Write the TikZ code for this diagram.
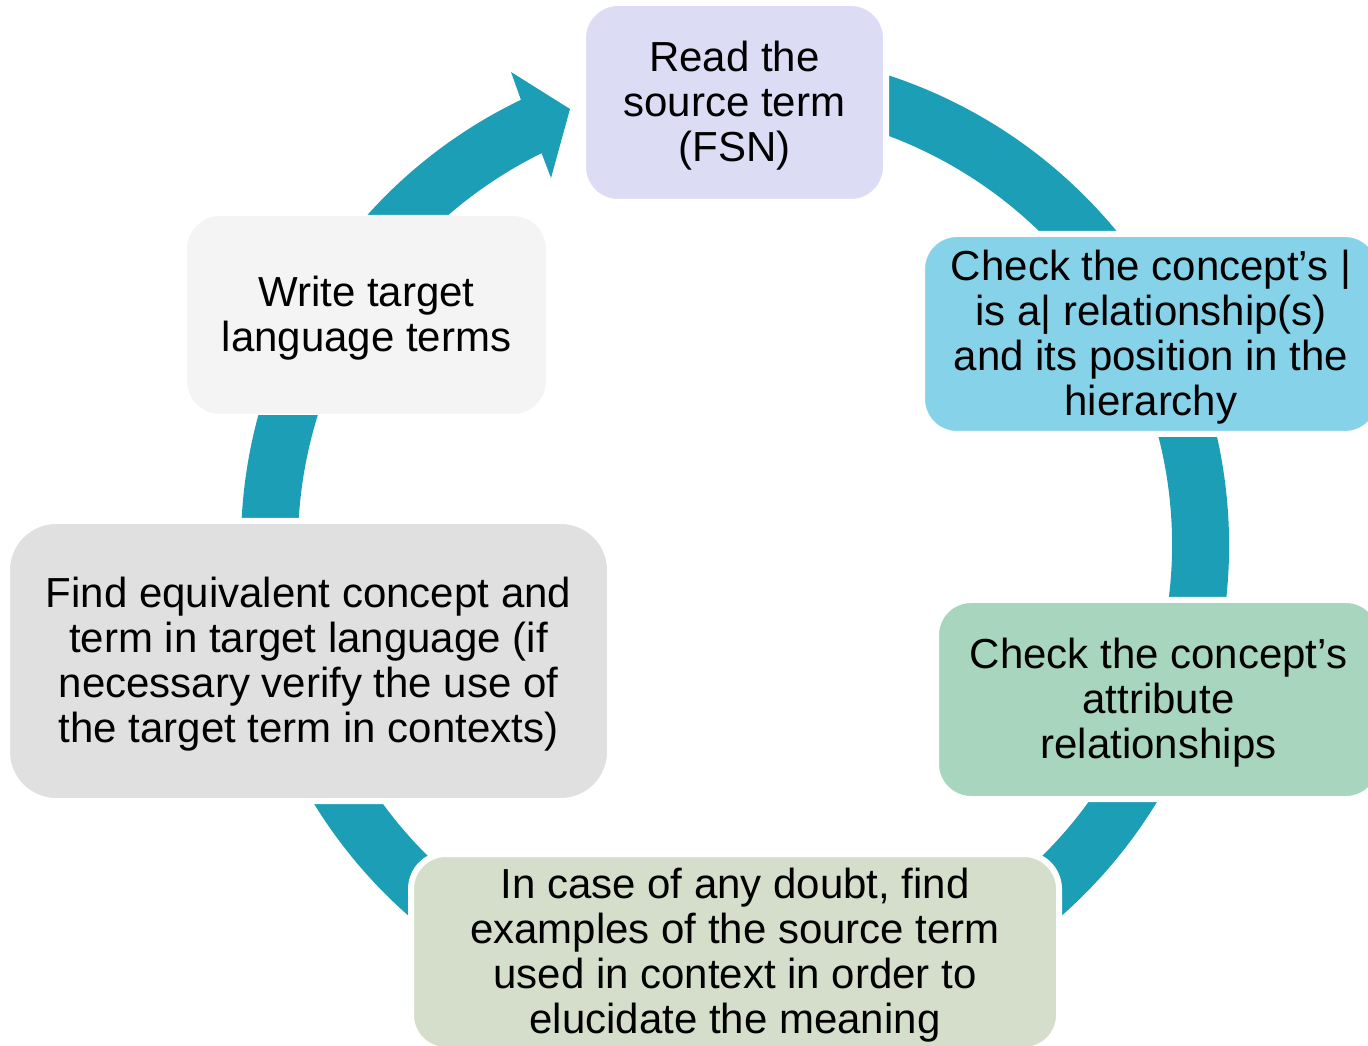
\documentclass[tikz,border=0pt]{standalone}
\usepackage{fontspec}
\setmainfont{Liberation Sans}
\usetikzlibrary{calc}
\definecolor{ringc}{RGB}{28,158,182}
\definecolor{creadbox}{RGB}{220,220,245}
\definecolor{cisabox}{RGB}{134,211,233}
\definecolor{cattrbox}{RGB}{167,213,190}
\definecolor{cdoubtbox}{RGB}{213,222,202}
\definecolor{cfindbox}{RGB}{224,224,224}
\definecolor{cwritebox}{RGB}{244,244,244}
\newcommand{\boxlines}[1]{\raisebox{0pt}[\dimexpr\height+10pt\relax][\depth]{\begin{tabular}{@{}c@{}}#1\end{tabular}}}
\tikzset{
  stepbox/.style={draw=white, line width=6pt, rounded corners=#1, inner sep=0pt,
    align=center, text=black, font=\fontsize{42}{45}\selectfont}
}
\begin{document}
\begin{tikzpicture}[x=1pt,y=1pt]
\useasboundingbox (0,0) rectangle (1368,1045);
\clip (0,0) rectangle (1368,1045);
\coordinate (O) at (735,500);
% ring with arrowhead
\fill[ringc] ($(O)+(115.68:494)$) -- (511,973) -- (570,936) -- (551,867)
  -- ($(O)+(116.27:437)$) arc[start angle=116.27, end angle=460, radius=437pt]
  -- ($(O)+(460:494)$) arc[start angle=460, end angle=115.68, radius=494pt] -- cycle;
% boxes
\node[stepbox=35pt, fill=creadbox, minimum width=303pt, minimum height=199pt] (read) at (734.5,942.5)
  {\boxlines{Read the\\source term\\(FSN)}};
\node[stepbox=35pt, fill=cisabox, minimum width=458pt, minimum height=200pt] (isa) at (1151,711)
  {\boxlines{Check the concept’s |\\is a| relationship(s)\\and its position in the\\hierarchy}};
\node[stepbox=35pt, fill=cattrbox, minimum width=445pt, minimum height=199pt] (attr) at (1158.5,345.5)
  {\boxlines{Check the concept’s\\attribute\\relationships}};
\node[stepbox=35pt, fill=cdoubtbox, minimum width=648pt, minimum height=196pt] (doubt) at (735,93)
  {\boxlines{In case of any doubt, find\\examples of the source term\\used in context in order to\\elucidate the meaning}};
\node[stepbox=49pt, fill=cfindbox, minimum width=603pt, minimum height=280pt] (find) at (308.5,384)
  {\boxlines{Find equivalent concept and\\term in target language (if\\necessary verify the use of\\the target term in contexts)}};
\node[stepbox=33.5pt, line width=1pt, fill=cwritebox, minimum width=360pt, minimum height=199pt] (write) at (366.5,730)
  {\boxlines{Write target\\language terms}};
\end{tikzpicture}
\end{document}
